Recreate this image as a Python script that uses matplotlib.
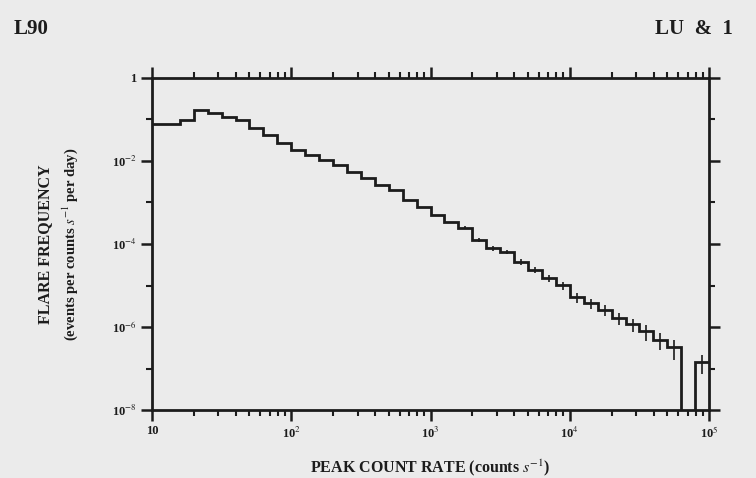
import numpy as np
import matplotlib
matplotlib.use("Agg")
import matplotlib.pyplot as plt
from matplotlib.ticker import LogLocator, NullFormatter, FixedLocator

# flare frequency per 0.1-dex bin of peak count rate (10 .. 1e5 counts/s)
freq = [0.078, 0.078, 0.098, 0.17, 0.145, 0.115, 0.098, 0.063, 0.043, 0.027,
        0.0186, 0.0138, 0.0105, 7.9e-3, 5.4e-3, 3.9e-3, 2.6e-3, 2.0e-3, 1.15e-3, 7.8e-4,
        5.0e-4, 3.4e-4, 2.45e-4, 1.26e-4, 7.9e-5, 6.5e-5, 3.7e-5, 2.35e-5, 1.5e-5, 1.02e-5,
        5.2e-6, 3.8e-6, 2.6e-6, 1.66e-6, 1.17e-6, 7.9e-7, 4.9e-7, 3.3e-7, 0.0, 1.45e-7]
# fractional error on the tail bins
rel_err = [0, 0, 0, 0, 0, 0, 0, 0, 0, 0,
           0, 0, 0, 0, 0, 0, 0, 0, 0, 0,
           0, 0, 0.08, 0.1, 0.12, 0.12, 0.15, 0.17, 0.2, 0.22,
           0.25, 0.28, 0.3, 0.33, 0.36, 0.4, 0.43, 0.5, 0, 0.5]

y_ticks = [1, 1e-2, 1e-4, 1e-6, 1e-8]
y_labels = ["1", r"10$^{-2}$", r"10$^{-4}$", r"10$^{-6}$", r"10$^{-8}$"]
x_ticks = [10, 1e2, 1e3, 1e4, 1e5]
x_labels = ["10", r"10$^{2}$", r"10$^{3}$", r"10$^{4}$", r"10$^{5}$"]

ink = "#1c1c1c"
paper = "#ebebeb"
plt.rcParams["font.family"] = ["Liberation Serif", "DejaVu Serif"]
plt.rcParams["mathtext.fontset"] = "stix"

freq = np.array(freq)
rel_err = np.array(rel_err)
edges = np.logspace(1, 5, len(freq) + 1)
centers = np.sqrt(edges[:-1] * edges[1:])

fig = plt.figure(figsize=(7.56, 4.78), dpi=100, facecolor=paper)
ax = fig.add_axes([0.201, 0.142, 0.737, 0.695], facecolor=paper)

# empty bins drop below the axis
ax.stairs(np.where(freq > 0, freq, 1e-10), edges, baseline=None, color=ink, lw=2.0)
m = rel_err > 0
ax.errorbar(centers[m], freq[m], yerr=[freq[m] * rel_err[m], freq[m] * rel_err[m]],
            fmt="none", ecolor=ink, elinewidth=1.2, capsize=0)

ax.set_xscale("log")
ax.set_yscale("log")
ax.set_xlim(10, 1e5)
ax.set_ylim(1e-8, 1)

ax.xaxis.set_major_locator(FixedLocator(x_ticks))
ax.set_xticklabels(x_labels)
ax.xaxis.set_minor_locator(LogLocator(base=10, subs=np.arange(2, 10)))
ax.xaxis.set_minor_formatter(NullFormatter())
ax.yaxis.set_major_locator(FixedLocator(y_ticks))
ax.set_yticklabels(y_labels)
ax.yaxis.set_minor_locator(FixedLocator([1e-1, 1e-3, 1e-5, 1e-7]))
ax.yaxis.set_minor_formatter(NullFormatter())

ax.tick_params(which="both", direction="out", top=True, right=True, colors=ink,
               labelsize=9, pad=3)
ax.tick_params(which="major", length=8, width=1.8)
ax.tick_params(which="minor", length=4.5, width=1.5)
for lab in ax.get_xticklabels() + ax.get_yticklabels():
    lab.set_fontweight("bold")
for s in ax.spines.values():
    s.set_color(ink)
    s.set_linewidth(2.0)

ax.set_xlabel(r"PEAK COUNT RATE (counts $s^{-1}$)", fontsize=11.5, fontweight="bold",
              color=ink, labelpad=12)
fig.text(0.060, 0.49, "FLARE FREQUENCY", rotation=90, ha="center", va="center",
         fontsize=11.5, fontweight="bold", color=ink)
fig.text(0.093, 0.49, r"(events per counts $s^{-1}$ per day)", rotation=90,
         ha="center", va="center", fontsize=10.5, fontweight="bold", color=ink)

# page header of the scanned journal page
fig.text(0.018, 0.94, "L90", fontsize=15, fontweight="bold", color=ink, va="center")
fig.text(0.866, 0.94, "LU  &  1", fontsize=15, fontweight="bold", color=ink, va="center")

fig.savefig("out.png", dpi=100, facecolor=paper)
